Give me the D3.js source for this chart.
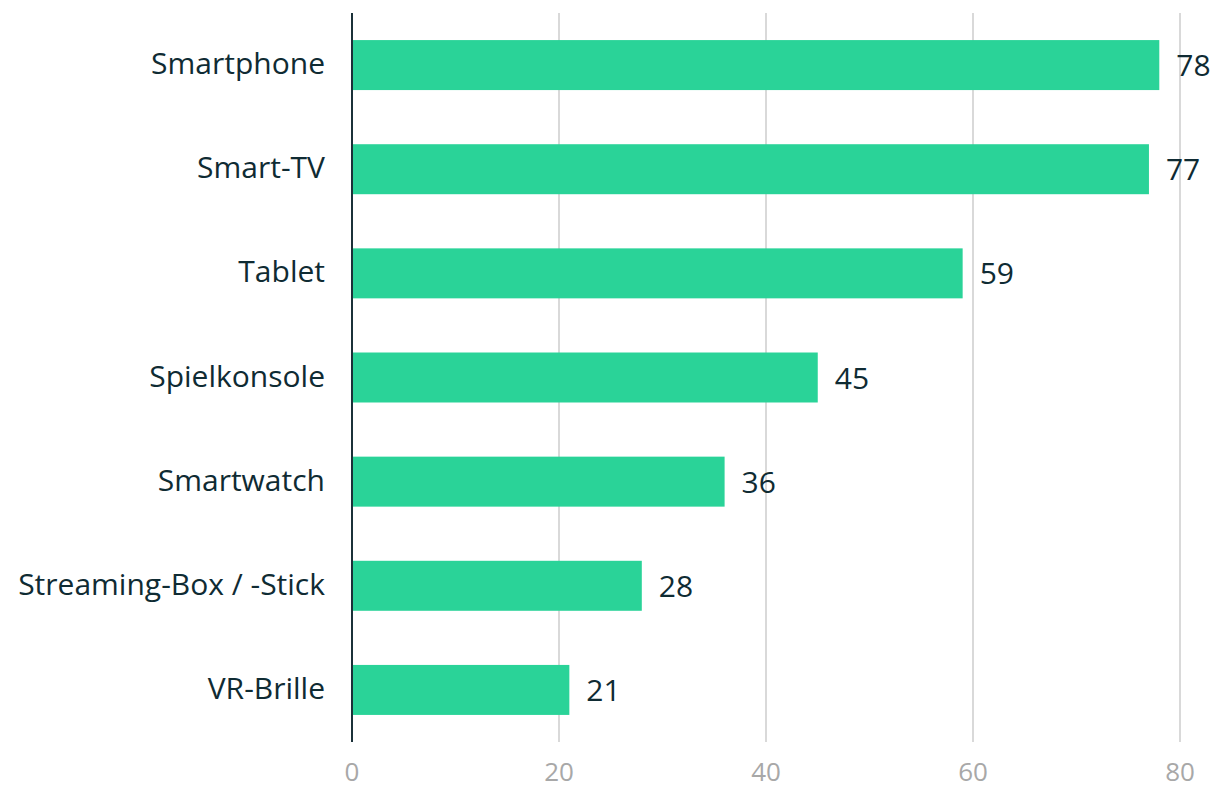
<!DOCTYPE html>
<html>
<head>
<meta charset="utf-8">
<script src="https://cdn.jsdelivr.net/npm/d3@7"></script>
<style>
  body { margin: 0; background: #fff; }
  svg { display: block; font-family: "Open Sans", sans-serif; }
</style>
</head>
<body>
<div id="chart"></div>
<script>
const categories = ["Smartphone", "Smart-TV", "Tablet", "Spielkonsole", "Smartwatch", "Streaming-Box / -Stick", "VR-Brille"];
const values = [78, 77, 59, 45, 36, 28, 21];
const ticks = [0, 20, 40, 60, 80];

const width = 1215, height = 785;
const margins = { top: 13, right: 35, bottom: 43, left: 352 };

const svg = d3.select("#chart").append("svg")
    .attr("width", width)
    .attr("height", height);

const x = d3.scaleLinear()
    .domain([0, 80])
    .range([margins.left, 1180]);

const y = d3.scaleBand()
    .domain(categories)
    .range([margins.top, height - margins.bottom])
    .paddingInner(0.52)
    .paddingOuter(0.26);

const axisBottomY = height - margins.bottom;

// grid lines
svg.append("g")
    .selectAll("line")
    .data(ticks.filter(t => t > 0))
    .join("line")
    .attr("x1", d => x(d))
    .attr("x2", d => x(d))
    .attr("y1", margins.top)
    .attr("y2", axisBottomY)
    .attr("stroke", "#d9d9d9")
    .attr("stroke-width", 2);

// bars
svg.append("g")
    .selectAll("rect")
    .data(values)
    .join("rect")
    .attr("x", x(0))
    .attr("y", (d, i) => y(categories[i]))
    .attr("width", d => x(d) - x(0))
    .attr("height", y.bandwidth())
    .attr("fill", "#2ad398");

// value labels
svg.append("g")
    .selectAll("text")
    .data(values)
    .join("text")
    .attr("x", d => x(d) + 17)
    .attr("y", (d, i) => y(categories[i]) + y.bandwidth() / 2 + 11)
    .attr("font-size", 30)
    .attr("fill", "#0f2b33")
    .text(d => d);

// category axis line
svg.append("line")
    .attr("x1", x(0))
    .attr("x2", x(0))
    .attr("y1", margins.top)
    .attr("y2", axisBottomY)
    .attr("stroke", "#1b3139")
    .attr("stroke-width", 2);

// category labels
svg.append("g")
    .selectAll("text")
    .data(categories)
    .join("text")
    .attr("x", x(0) - 27)
    .attr("y", d => y(d) + y.bandwidth() / 2 + 9)
    .attr("text-anchor", "end")
    .attr("font-size", 30)
    .attr("fill", "#0f2b33")
    .text(d => d);

// x tick labels
svg.append("g")
    .selectAll("text")
    .data(ticks)
    .join("text")
    .attr("x", d => x(d))
    .attr("y", 781)
    .attr("text-anchor", "middle")
    .attr("font-size", 26)
    .attr("fill", "#a8a8a8")
    .text(d => d);
</script>
</body>
</html>
